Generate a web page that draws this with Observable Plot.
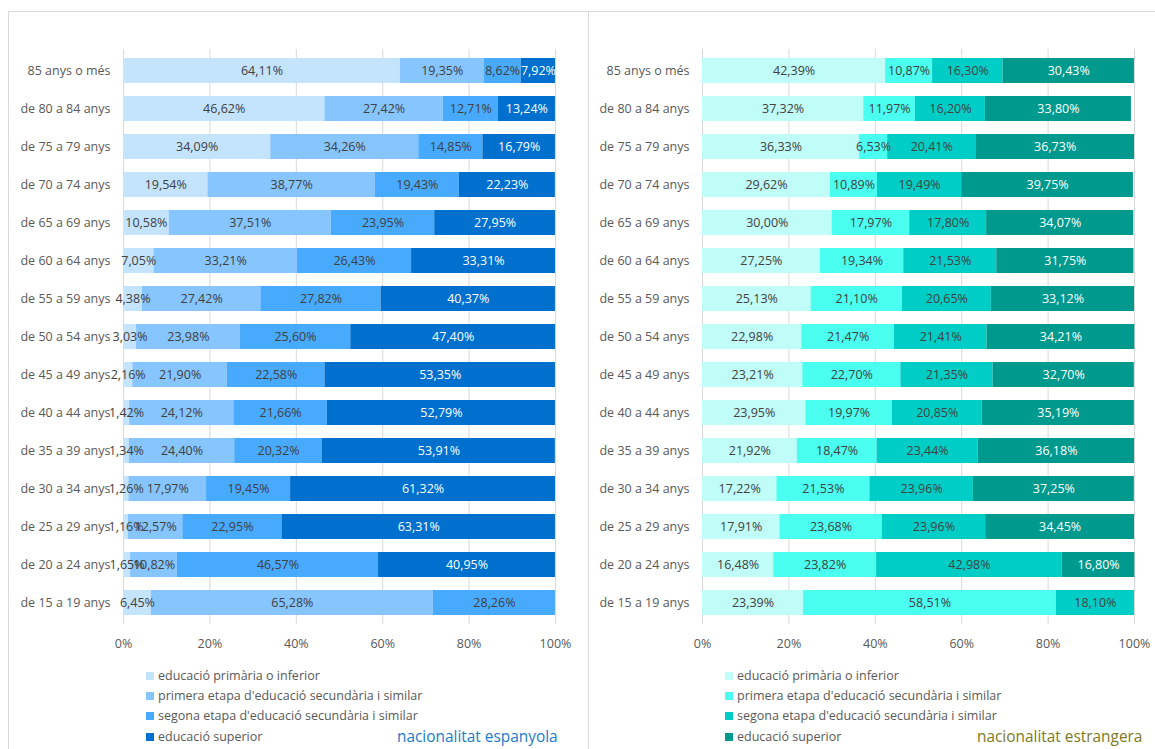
<!DOCTYPE html>
<html>
<head>
<meta charset="utf-8">
<script src="https://cdn.jsdelivr.net/npm/d3@7"></script>
<script src="https://cdn.jsdelivr.net/npm/@observablehq/plot@0.6"></script>
<style>
  html, body { margin: 0; padding: 0; background: #fff; }
  #root { position: relative; width: 1155px; height: 749px; overflow: hidden; font-family: "Open Sans", sans-serif; }
  .frame { position: absolute; top: 11px; height: 800px; border: 1px solid #d9d9d9; box-sizing: border-box; }
  .chart { position: absolute; top: 0; }
  .leg { position: absolute; font-size: 12.5px; color: #595959; line-height: 16px; white-space: nowrap; }
  .sw { display: inline-block; width: 8px; height: 8px; margin-right: 4px; vertical-align: 0px; }
  .ttl { position: absolute; font-size: 15.4px; white-space: nowrap; line-height: 20px; }
</style>
</head>
<body>
<div id="root"></div>
<script>
const ageGroups = ["85 anys o més","de 80 a 84 anys","de 75 a 79 anys","de 70 a 74 anys","de 65 a 69 anys","de 60 a 64 anys","de 55 a 59 anys","de 50 a 54 anys","de 45 a 49 anys","de 40 a 44 anys","de 35 a 39 anys","de 30 a 34 anys","de 25 a 29 anys","de 20 a 24 anys","de 15 a 19 anys"];
const levels = ["educació primària o inferior","primera etapa d'educació secundària i similar","segona etapa d'educació secundària i similar","educació superior"];
const xTicks = [0, 20, 40, 60, 80, 100];

// nacionalitat espanyola
const esPrimaria    = [64.11,46.62,34.09,19.54,10.58,7.05,4.38,3.03,2.16,1.42,1.34,1.26,1.16,1.65,6.45];
const esSecundaria1 = [19.35,27.42,34.26,38.77,37.51,33.21,27.42,23.98,21.90,24.12,24.40,17.97,12.57,10.82,65.28];
const esSecundaria2 = [8.62,12.71,14.85,19.43,23.95,26.43,27.82,25.60,22.58,21.66,20.32,19.45,22.95,46.57,28.26];
const esSuperior    = [7.92,13.24,16.79,22.23,27.95,33.31,40.37,47.40,53.35,52.79,53.91,61.32,63.31,40.95,0];

// nacionalitat estrangera
const exPrimaria    = [42.39,37.32,36.33,29.62,30.00,27.25,25.13,22.98,23.21,23.95,21.92,17.22,17.91,16.48,23.39];
const exSecundaria1 = [10.87,11.97,6.53,10.89,17.97,19.34,21.10,21.47,22.70,19.97,18.47,21.53,23.68,23.82,58.51];
const exSecundaria2 = [16.30,16.20,20.41,19.49,17.80,21.53,20.65,21.41,21.35,20.85,23.44,23.96,23.96,42.98,18.10];
const exSuperior    = [30.43,33.80,36.73,39.75,34.07,31.75,33.12,34.21,32.70,35.19,36.18,37.25,34.45,16.80,0];

const esColors = ["#C4E3FD", "#86C5FD", "#48AAFC", "#0070CE"];
const exColors = ["#C0FCF8", "#4AFEF0", "#00CEC6", "#00998E"];

const fmt = v => v.toFixed(2).replace(".", ",") + "%";

function makeChart(series, colors, width, marginLeft, marginRight) {
  const rows = ageGroups.flatMap((age, i) =>
    series.map((s, j) => ({age, level: levels[j], k: j, value: s[i]}))
  ).filter(d => d.value > 0);
  return Plot.plot({
    width, height: 660,
    marginLeft, marginRight, marginTop: 49, marginBottom: 36,
    style: {fontFamily: "'Open Sans', sans-serif", fontSize: "12.5px", color: "#595959", background: "transparent", overflow: "visible"},
    x: {domain: [0, 100], ticks: xTicks, tickFormat: d => d + "%", tickSize: 0, tickPadding: 15, label: null},
    y: {domain: ageGroups, paddingInner: 0.34, paddingOuter: 0.17, tickSize: 0, tickPadding: 13, label: null},
    color: {domain: levels, range: colors},
    marks: [
      Plot.ruleX(xTicks, {stroke: "#d9d9d9", strokeWidth: 1}),
      Plot.barX(rows, {x: "value", y: "age", fill: "level"}),
      Plot.text(rows, Plot.stackX({x: "value", y: "age", z: "level", text: d => d.k < 3 ? fmt(d.value) : "", fill: "#404040", fontSize: 12.5})),
      Plot.text(rows, Plot.stackX({x: "value", y: "age", z: "level", text: d => d.k === 3 ? fmt(d.value) : "", fill: "#ffffff", fontSize: 12.5}))
    ]
  });
}

const root = document.getElementById("root");

function addFrame(left, width) {
  const f = document.createElement("div");
  f.className = "frame";
  f.style.left = left + "px";
  f.style.width = width + "px";
  root.appendChild(f);
}
addFrame(8, 581);
addFrame(588, 600);

function addChart(node, left) {
  const w = document.createElement("div");
  w.className = "chart";
  w.style.left = left + "px";
  w.appendChild(node);
  root.appendChild(w);
}
addChart(makeChart([esPrimaria, esSecundaria1, esSecundaria2, esSuperior], esColors, 588, 123, 33), 0);
addChart(makeChart([exPrimaria, exSecundaria1, exSecundaria2, exSuperior], exColors, 567, 114, 21), 588);

function addLegend(colors, left) {
  const ys = [676, 696, 716, 737];
  levels.forEach((lv, i) => {
    const d = document.createElement("div");
    d.className = "leg";
    d.style.left = left + "px";
    d.style.top = (ys[i] - 8) + "px";
    const sw = document.createElement("span");
    sw.className = "sw";
    sw.style.background = colors[i];
    d.appendChild(sw);
    d.appendChild(document.createTextNode(lv));
    root.appendChild(d);
  });
}
addLegend(esColors, 146);
addLegend(exColors, 725);

function addTitle(text, left, color) {
  const t = document.createElement("div");
  t.className = "ttl";
  t.style.left = left + "px";
  t.style.top = "727px";
  t.style.color = color;
  t.textContent = text;
  root.appendChild(t);
}
addTitle("nacionalitat espanyola", 397, "#1A7CCB");
addTitle("nacionalitat estrangera", 977, "#7D7A22");
</script>
</body>
</html>
